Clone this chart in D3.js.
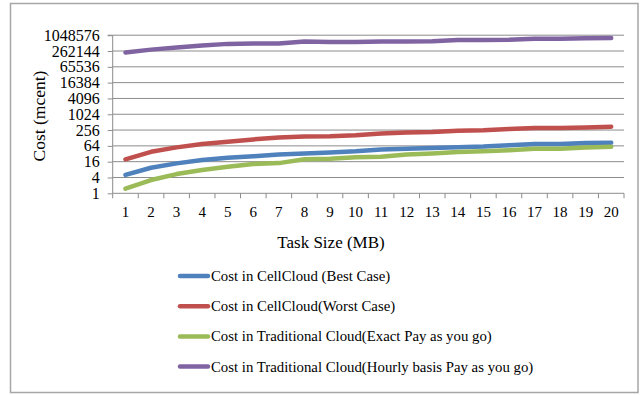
<!DOCTYPE html>
<html>
<head>
<meta charset="utf-8">
<script src="https://cdn.jsdelivr.net/npm/d3@7/dist/d3.min.js"></script>
<style>
  html, body { margin: 0; padding: 0; background: #fff; }
  svg { display: block; }
  text { font-family: "Liberation Serif", "DejaVu Serif", serif; fill: #000; }
</style>
</head>
<body>
<svg id="chart" width="641" height="395"></svg>
<script>
// Task sizes (MB) along the x axis
const taskSizes = d3.range(1, 21);

// Cost series, in millicents
const bestCase = [5, 9.4, 13.8, 18.4, 22.6, 25.6, 30, 33, 36, 40, 47, 50, 53, 57, 60, 67, 75, 75, 82, 84];
const worstCase = [19.5, 38, 56, 75, 92, 113, 134, 147, 150, 164, 191, 208, 214, 240, 250, 278, 304, 304, 322, 340];
const exactPay = [1.5, 3.2, 5.4, 7.7, 10.2, 13, 14.1, 19.7, 20.5, 23.5, 24.7, 30, 33, 37, 40, 44, 50, 50, 56, 59];
const hourlyPay = [231000, 296000, 357000, 425000, 490000, 506000, 506000, 603000, 575000, 580000, 610000, 610000, 620000, 685000, 685000, 700000, 760000, 760000, 800000, 825000];

const yTicks = [1, 4, 16, 64, 256, 1024, 4096, 16384, 65536, 262144, 1048576];

const seriesNames = [
  "Cost in CellCloud (Best Case)",
  "Cost in CellCloud(Worst Case)",
  "Cost in Traditional Cloud(Exact Pay as you go)",
  "Cost in Traditional Cloud(Hourly basis Pay as you go)"
];
const seriesColors = ["#4f81bd", "#c0504d", "#9bbb59", "#8064a2"];
const seriesValues = [bestCase, worstCase, exactPay, hourlyPay];

const svg = d3.select("#chart");

// Outer chart frame
svg.append("rect")
  .attr("x", 10.5).attr("y", 3.5)
  .attr("width", 627.5).attr("height", 389)
  .attr("fill", "#fff").attr("stroke", "#a6a6a6").attr("stroke-width", 1.5);

const plot = { left: 112.7, right: 624, top: 35.2, bottom: 193.3 };

const x = d3.scaleBand().domain(taskSizes).range([plot.left, plot.right]);
const y = d3.scaleLog().base(4).domain([1, 1048576]).range([plot.bottom, plot.top]);

// Horizontal gridlines
svg.append("g").selectAll("line")
  .data(yTicks.slice(1))
  .join("line")
  .attr("x1", plot.left).attr("x2", plot.right)
  .attr("y1", d => y(d)).attr("y2", d => y(d))
  .attr("stroke", "#8c8c8c").attr("stroke-width", 1);

// Y axis
const yAxis = d3.axisLeft(y).tickValues(yTicks).tickFormat(d3.format("d")).tickSize(5).tickPadding(8);
const gy = svg.append("g").attr("transform", `translate(${plot.left},0)`).call(yAxis);
gy.select(".domain").attr("stroke", "#8c8c8c").attr("d", `M-5,${plot.top}H0V${plot.bottom}`);
gy.selectAll(".tick line").attr("stroke", "#8c8c8c");
gy.selectAll(".tick text").attr("font-size", 16).attr("font-family", "Liberation Serif");

// X axis: category labels centred in bands, ticks on band boundaries
const xAxis = d3.axisBottom(x).tickSize(0).tickPadding(13);
const gx = svg.append("g").attr("transform", `translate(0,${plot.bottom})`).call(xAxis);
gx.select(".domain").attr("stroke", "#8c8c8c").attr("d", `M${plot.left},0H${plot.right}`);
gx.selectAll(".tick text").attr("font-size", 15).attr("font-family", "Liberation Serif");
gx.selectAll("line.bound")
  .data(taskSizes.concat([null]))
  .join("line")
  .attr("class", "bound")
  .attr("x1", (d, i) => i < taskSizes.length ? x(d) : plot.right)
  .attr("x2", (d, i) => i < taskSizes.length ? x(d) : plot.right)
  .attr("y1", 0).attr("y2", 5)
  .attr("stroke", "#8c8c8c");

// Axis titles
svg.append("text")
  .attr("x", 331).attr("y", 248)
  .attr("text-anchor", "middle").attr("font-size", 17)
  .text("Task Size (MB)");
svg.append("text")
  .attr("transform", "translate(45,116) rotate(-90)")
  .attr("text-anchor", "middle").attr("font-size", 17.5)
  .text("Cost (mcent)");

// Series lines
const line = d3.line()
  .x((d, i) => x(taskSizes[i]) + x.bandwidth() / 2)
  .y(d => y(d));

svg.append("g").selectAll("path")
  .data(seriesValues)
  .join("path")
  .attr("d", line)
  .attr("fill", "none")
  .attr("stroke", (d, i) => seriesColors[i])
  .attr("stroke-width", 4.5)
  .attr("stroke-linecap", "round")
  .attr("stroke-linejoin", "round");

// Legend
const legend = svg.append("g").selectAll("g")
  .data(seriesNames)
  .join("g")
  .attr("transform", (d, i) => `translate(0,${276 + i * 30.2})`);
legend.append("line")
  .attr("x1", 180).attr("x2", 208)
  .attr("y1", 0).attr("y2", 0)
  .attr("stroke", (d, i) => seriesColors[i])
  .attr("stroke-width", 4.5)
  .attr("stroke-linecap", "round");
legend.append("text")
  .attr("x", 211).attr("y", 5)
  .attr("font-size", 14.8)
  .text(d => d);
</script>
</body>
</html>
